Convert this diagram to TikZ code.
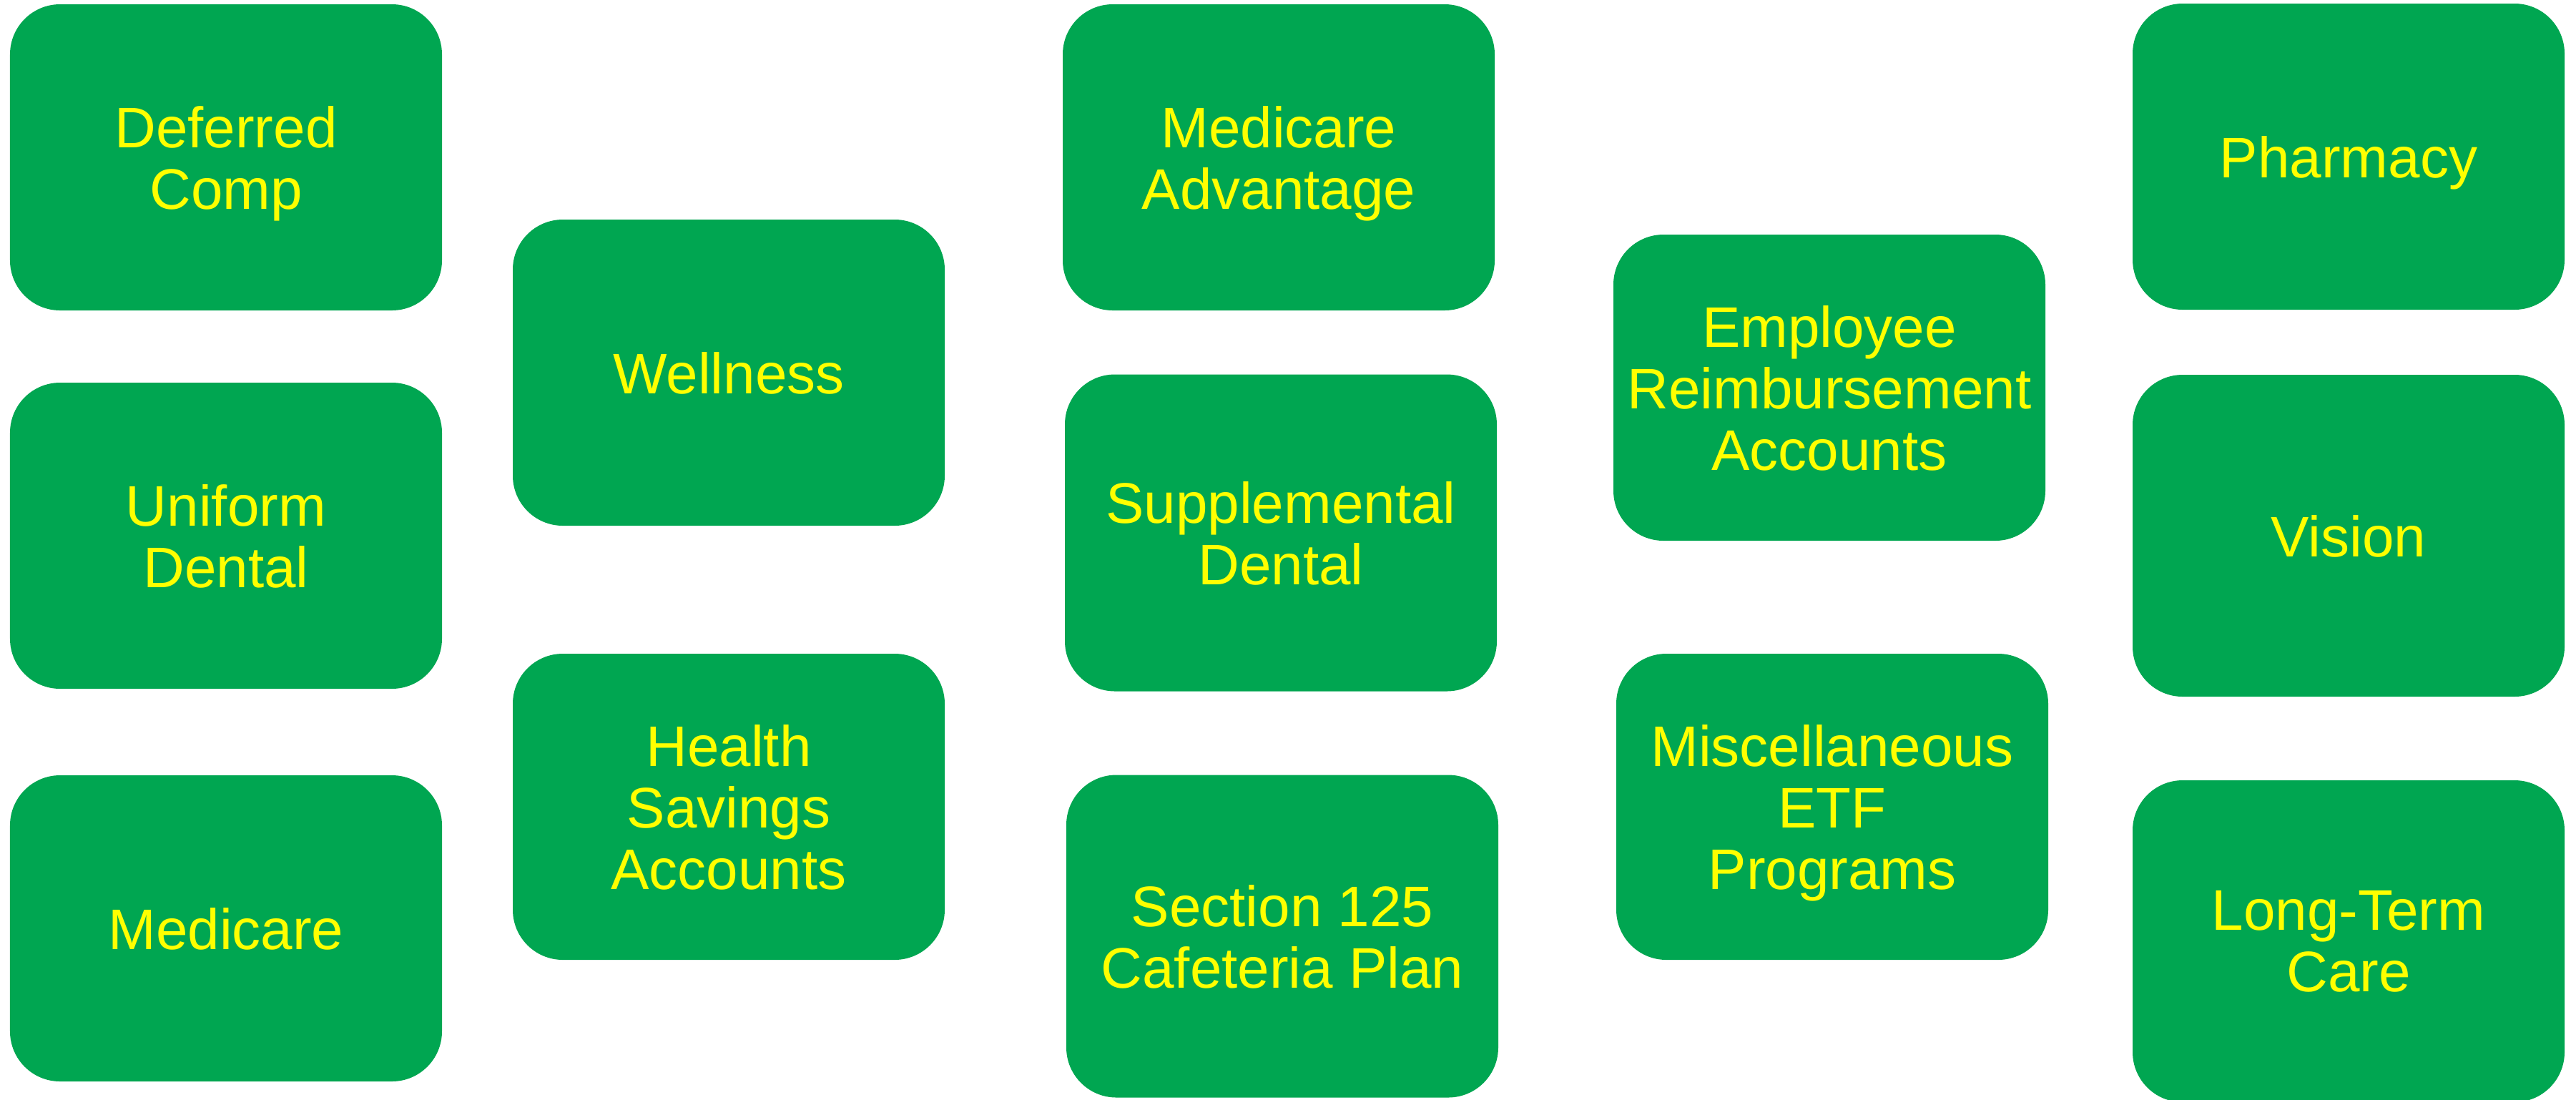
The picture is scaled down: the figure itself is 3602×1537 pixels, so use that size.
\documentclass[tikz,border=0pt]{standalone}
\usepackage{fontspec}
\setmainfont{Liberation Sans}
\definecolor{planbg}{RGB}{0,166,81}
\definecolor{plantext}{RGB}{255,255,0}
\begin{document}
\begin{tikzpicture}[x=0.2pt,y=-0.2pt,
	plan/.style={rectangle,rounded corners=14pt,fill=planbg,text=plantext,
		inner sep=0pt,minimum width=120.8pt,minimum height=85.6pt,align=center,
		text depth=0pt,font=\fontsize{16}{17.2}\selectfont}]
	\useasboundingbox (0,0) rectangle (3602,1537);

	% first column
	\node[plan] (defcomp) at (316,220) {Deferred\\Comp};
	\node[plan] (unidental) at (316,749) {Uniform\\Dental};
	\node[plan] (medicare) at (316,1298) {Medicare};

	% second column
	\node[plan] (wellness) at (1019,521) {Wellness};
	\node[plan] (hsa) at (1019,1128) {Health\\Savings\\Accounts};

	% third column
	\node[plan] (medadv) at (1788,220) {Medicare\\Advantage};
	\node[plan,minimum height=88.6pt] (suppdental) at (1791,745) {Supplemental\\Dental};
	\node[plan,minimum height=90.2pt] (sec125) at (1793,1309) {Section 125\\Cafeteria Plan};

	% fourth column
	\node[plan] (era) at (2558,542) {Employee\\Reimbursement\\Accounts};
	\node[plan] (misc) at (2562,1128) {Miscellaneous\\ETF\\Programs};

	% fifth column
	\node[plan] (pharmacy) at (3284,219) {Pharmacy};
	\node[plan,minimum height=90pt] (vision) at (3284,749) {Vision};
	\node[plan,minimum height=90pt] (ltc) at (3284,1316) {Long-Term\\Care};
\end{tikzpicture}
\end{document}
